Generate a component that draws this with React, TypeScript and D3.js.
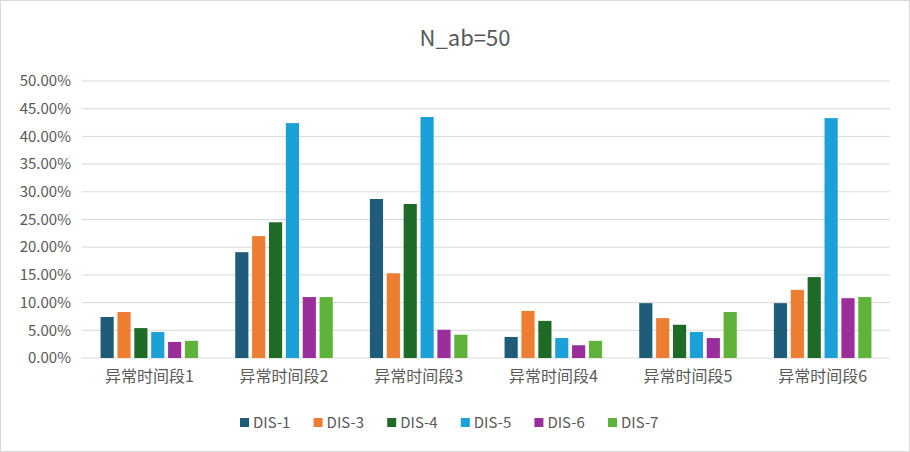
import * as d3 from "d3";

const categories = ["异常时间段1", "异常时间段2", "异常时间段3", "异常时间段4", "异常时间段5", "异常时间段6"];
const seriesNames = ["DIS-1", "DIS-3", "DIS-4", "DIS-5", "DIS-6", "DIS-7"];
const dis1 = [7.4, 19.1, 28.7, 3.8, 9.9, 9.9];
const dis3 = [8.3, 22.0, 15.3, 8.5, 7.2, 12.3];
const dis4 = [5.4, 24.5, 27.8, 6.7, 6.0, 14.6];
const dis5 = [4.7, 42.4, 43.5, 3.6, 4.7, 43.3];
const dis6 = [2.9, 11.0, 5.1, 2.3, 3.6, 10.8];
const dis7 = [3.1, 11.0, 4.2, 3.1, 8.3, 11.0];
const yTicks = [0, 5, 10, 15, 20, 25, 30, 35, 40, 45, 50];
const colors = ["#1f5c7a", "#ed7d31", "#1e6b28", "#1ba1d8", "#9a2f9c", "#5fb33a"];

function App() {
  const width = 910, height = 452;
  const margin = { top: 81, right: 20, bottom: 94, left: 82 };
  const cw = width - margin.left - margin.right;
  const ch = height - margin.top - margin.bottom;
  const series = [dis1, dis3, dis4, dis5, dis6, dis7];
  const x0 = d3.scaleBand().domain(categories).range([0, cw]);
  const x1 = d3.scaleBand().domain(seriesNames).range([0, x0.bandwidth()]).paddingInner(0.22).paddingOuter(1.1);
  const y = d3.scaleLinear().domain([0, 50]).range([ch, 0]);
  const font = "'Noto Sans CJK SC', 'DejaVu Sans', sans-serif";
  const legendX = d3.scalePoint().domain(seriesNames).range([240, 608]);

  return (
    <svg width={width} height={height} style={{ position: "absolute", left: 0, top: 0, fontFamily: font }}>
      <rect x={0.5} y={0.5} width={width - 1} height={height - 1} fill="#fff" stroke="#d9d9d9" />
      <text x={width / 2 + 10} y={46} textAnchor="middle" fontSize={22} fill="#595959">N_ab=50</text>
      <g transform={`translate(${margin.left},${margin.top})`}>
        {yTicks.map(t => (
          <g key={t}>
            <line x1={0} x2={cw} y1={y(t)} y2={y(t)} stroke="#d9d9d9" />
            <text x={-11} y={y(t)} dy="0.35em" textAnchor="end" fontSize={15} fill="#595959">{t.toFixed(2)}%</text>
          </g>
        ))}
        {categories.map((c, i) => (
          <g key={c} transform={`translate(${x0(c)},0)`}>
            {series.map((s, j) => (
              <rect key={j} x={x1(seriesNames[j])} y={y(s[i])} width={x1.bandwidth()} height={ch - y(s[i])} fill={colors[j]} />
            ))}
            <text x={x0.bandwidth() / 2} y={ch + 24} textAnchor="middle" fontSize={16} fill="#595959">{c}</text>
          </g>
        ))}
      </g>
      {seriesNames.map((n, j) => (
        <g key={n} transform={`translate(${legendX(n)},423)`}>
          <rect x={0} y={-5} width={9} height={9} fill={colors[j]} />
          <text x={13} y={0} dy="0.35em" fontSize={15} fill="#595959">{n}</text>
        </g>
      ))}
    </svg>
  );
}

export default App;
